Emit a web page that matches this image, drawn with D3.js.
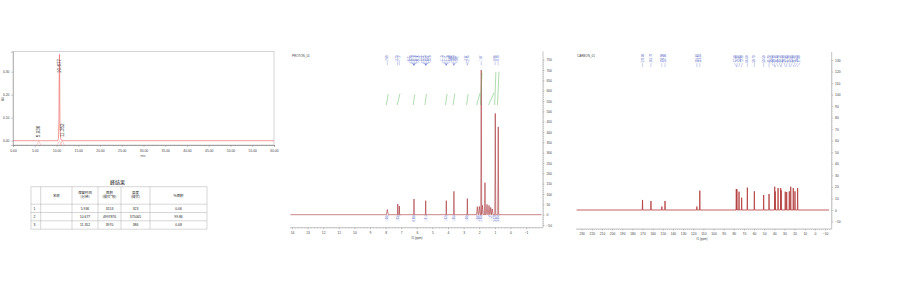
<!DOCTYPE html>
<html><head><meta charset="utf-8">
<script src="https://cdn.jsdelivr.net/npm/d3@7"></script>
<style>body{margin:0;background:#fff} svg{display:block}</style>
</head><body><svg id="c" width="900" height="300"></svg>
<script>
// ================= DATA =================
// HPLC chromatogram trace (min, AU)
const hplcTime = [0, 5.60, 5.80, 5.936, 6.05, 6.30, 10.30, 10.45, 10.55, 10.62, 10.677, 10.73, 10.80, 10.95, 11.10, 11.25, 11.352, 11.45, 11.70, 60];
const hplcAU   = [0, 0, 0.0002, 0.0004, 0.0002, 0, 0, 0.01, 0.08, 0.28, 0.375, 0.26, 0.07, 0.01, 0.002, 0.0003, 0.0005, 0.0002, 0, 0];
const peakTimes   = [5.936, 10.677, 11.352];
const peakHeights = [0.000323, 0.375065, 0.000386];
const peakLabels  = ["5.936", "10.677", "11.352"];
const hplcXTicks  = [0,5,10,15,20,25,30,35,40,45,50,55,60];
const hplcYTicks  = [0, 0.1, 0.2, 0.3];

// Peak result table
const tblTitle = "峰结果";
const tblHead  = ["", "名称", "保留时间", "面积", "高度", "%面积"];
const tblUnit  = ["", "", "(分钟)", "(微伏*秒)", "(微伏)", ""];
const tblIdx   = ["1", "2", "3"];
const tblName  = ["", "", ""];
const tblRT    = ["5.936", "10.677", "11.352"];
const tblArea  = ["3153", "4997876", "3970"];
const tblHt    = ["323", "375065", "386"];
const tblPct   = ["0.06", "99.86", "0.08"];

// 1H NMR peaks (ppm, intensity, line half-width ppm)
const hPpm = [7.89, 7.22, 7.12, 6.18, 5.43, 4.11, 3.62, 2.76, 2.12, 1.99, 1.87, 1.79, 1.63, 1.50, 1.37, 1.26, 1.16, 0.97, 0.78];
const hInt = [25, 52, 42, 76, 68, 68, 113, 78, 39, 40, 700, 45, 155, 50, 45, 35, 28, 490, 425];
const hW   = [0.06, 0.02, 0.02, 0.02, 0.02, 0.02, 0.02, 0.02, 0.05, 0.05, 0.03, 0.05, 0.03, 0.05, 0.05, 0.05, 0.05, 0.03, 0.03];
const hPeakLabels = [7.89, 7.23, 7.12, 6.21, 6.20, 6.19, 6.18, 6.17, 6.16, 5.45, 5.44, 5.43, 5.42, 5.41, 5.40, 4.13, 4.12, 4.11, 4.10, 4.09, 3.64, 3.63, 3.62, 3.61, 2.77, 2.75, 1.87, 0.98, 0.79];
const hIntFrom = [7.95, 7.26, 6.23, 5.48, 4.16, 3.67, 2.81, 2.16, 1.92, 1.40, 1.01, 0.83];
const hIntTo   = [7.83, 7.08, 6.13, 5.38, 4.06, 3.57, 2.71, 1.95, 1.82, 1.05, 0.93, 0.73];
const hIntVal  = [1.00, 1.03, 0.98, 1.01, 1.02, 1.05, 1.00, 1.08, 2.95, 1.12, 3.02, 3.05];
const hXTicks  = [14,13,12,11,10,9,8,7,6,5,4,3,2,1,0,-1];
const hYTicks  = [-50,0,50,100,150,200,250,300,350,400,450,500,550,600,650,700,750];

// 13C NMR peaks
const cPpm = [170.0, 161.7, 150.9, 147.8, 116.4, 113.5, 77.5, 76.9, 74.8, 72.2, 66.6, 59.7, 50.5, 45.2, 39.6, 39.1, 36.3, 33.7, 33.2, 29.2, 27.8, 25.2, 23.8, 21.3, 19.6, 17.0];
const cInt = [8.7, 7.8, 3.0, 7.8, 3.0, 16.8, 18.2, 18.0, 15.9, 10.7, 19.4, 16.2, 13.0, 13.9, 20.2, 16.0, 19.0, 19.0, 17.0, 15.9, 15.6, 16.2, 20.2, 19.0, 16.2, 19.0];
const cXTicks = [230,220,210,200,190,180,170,160,150,140,130,120,110,100,90,80,70,60,50,40,30,20,10,0,-10];
const cYTicks = [-10,0,10,20,30,40,50,60,70,80,90,100,110,120,130];

// ================= DRAW =================
const FONT = "'Liberation Sans', Arial, sans-serif";
const CJK = "'Noto Sans CJK SC', sans-serif";
const svg = d3.select("#c");
svg.append("rect").attr("width",900).attr("height",300).attr("fill","#fff");

function styleAxis(g, fs){
  g.selectAll("path.domain").attr("stroke","#888").attr("stroke-width",0.5);
  g.selectAll(".tick line").attr("stroke","#888").attr("stroke-width",0.4);
  g.selectAll(".tick text").attr("fill","#444").attr("font-size",fs).attr("font-family",FONT);
}
function spread(xs, gap){
  const out = xs.slice();
  for(let it=0; it<400; it++){
    let moved=false;
    for(let i=1;i<out.length;i++){
      const d = out[i]-out[i-1];
      if(d < gap - 1e-6){ const s=(gap-d)/2; out[i-1]-=s; out[i]+=s; moved=true; }
    }
    if(!moved) break;
  }
  return out;
}
function specPoints(ppms, ints, ws, hi, lo){
  const pts=[[hi,0]];
  d3.range(ppms.length).sort((a,b)=>ppms[b]-ppms[a]).forEach(i=>{
    pts.push([ppms[i]+ws[i],0],[ppms[i],ints[i]],[ppms[i]-ws[i],0]);
  });
  pts.push([lo,0]);
  return pts;
}

// ---------- HPLC ----------
const hx = d3.scaleLinear().domain([0,60]).range([13,274]);
const hy = d3.scaleLinear().domain([-0.0187,0.387]).range([145,51.7]);
const gH = svg.append("g");
gH.append("rect").attr("x",hx(0)).attr("y",hy(0.387)).attr("width",hx(60)-hx(0)).attr("height",hy(-0.0187)-hy(0.387))
  .attr("fill","none").attr("stroke","#aaa").attr("stroke-width",0.5);
const hxMinor = gH.append("g").attr("transform",`translate(0,${hy(-0.0187)})`)
  .call(d3.axisBottom(hx).tickValues(d3.range(0,61,1)).tickSize(1).tickFormat(""));
styleAxis(hxMinor,3.4);
const hxAx = gH.append("g").attr("transform",`translate(0,${hy(-0.0187)})`)
  .call(d3.axisBottom(hx).tickValues(hplcXTicks).tickSize(2).tickPadding(2.5).tickFormat(d3.format(".2f")));
styleAxis(hxAx,3.4);
const hyAx = gH.append("g").attr("transform",`translate(${hx(0)},0)`)
  .call(d3.axisLeft(hy).tickValues(hplcYTicks).tickSize(2).tickPadding(1.5).tickFormat(d3.format(".2f")));
styleAxis(hyAx,3.4);
gH.append("text").attr("x",143).attr("y",157).attr("text-anchor","middle").attr("font-size",3).attr("fill","#555").attr("font-family",FONT).text("min");
gH.append("text").attr("transform","translate(4,99) rotate(-90)").attr("text-anchor","middle").attr("font-size",3).attr("fill","#555").attr("font-family",FONT).text("AU");
// baseline markers
peakTimes.forEach(t=>{
  const x=hx(t), yb=hy(0), yl=hy(-0.0187);
  gH.append("path").attr("d",`M${x-2},${yl} L${x},${yb} L${x+2},${yl}`).attr("fill","none").attr("stroke","#f4a0a0").attr("stroke-width",0.5);
});
gH.append("path").datum(d3.zip(hplcTime,hplcAU))
  .attr("d",d3.line().x(d=>hx(d[0])).y(d=>hy(d[1])))
  .attr("fill","none").attr("stroke","#ee6e6e").attr("stroke-width",0.7);
peakTimes.forEach((t,i)=>{
  const len = peakLabels[i].length*2.55;
  let yb = hy(peakHeights[i]) - 3.5;
  const top = hy(0.387)+6;
  if(yb - len < top) yb = top + len;
  gH.append("text").attr("transform",`translate(${hx(t)+1.6},${yb}) rotate(-90)`)
    .attr("font-size",4.6).attr("fill","#333").attr("font-family",FONT).text(peakLabels[i]);
});

// ---------- Table ----------
const gT = svg.append("g");
gT.append("text").attr("x",117.5).attr("y",183.5).attr("text-anchor","middle").attr("font-size",5).attr("font-family",CJK).attr("fill","#222").text(tblTitle);
const colX = [31, 40.7, 72, 98, 121, 150, 207];
const rowY = [186.7, 204.2, 212.5, 220.8, 229.2];
colX.forEach(x=>gT.append("line").attr("x1",x).attr("x2",x).attr("y1",rowY[0]).attr("y2",rowY[4]).attr("stroke","#999").attr("stroke-width",0.4));
rowY.forEach(y=>gT.append("line").attr("x1",colX[0]).attr("x2",colX[6]).attr("y1",y).attr("y2",y).attr("stroke","#999").attr("stroke-width",0.4));
tblHead.forEach((h,i)=>{
  if(i===0) return;
  const cx=(colX[i]+colX[i+1])/2;
  if(tblUnit[i]){
    gT.append("text").attr("x",cx).attr("y",193.5).attr("text-anchor","middle").attr("font-size",3.4).attr("font-family",CJK).attr("fill","#222").text(h);
    gT.append("text").attr("x",cx).attr("y",198.3).attr("text-anchor","middle").attr("font-size",3.4).attr("font-family",CJK).attr("fill","#222").text(tblUnit[i]);
  } else {
    gT.append("text").attr("x",cx).attr("y",196.5).attr("text-anchor","middle").attr("font-size",3.4).attr("font-family",CJK).attr("fill","#222").text(h);
  }
});
const cols = [tblIdx, tblName, tblRT, tblArea, tblHt, tblPct];
cols.forEach((col,ci)=>{
  col.forEach((v,ri)=>{
    const cy=(rowY[ri+1]+rowY[ri+2])/2+1.2;
    const x = ci===0 ? colX[0]+2.5 : (colX[ci]+colX[ci+1])/2;
    gT.append("text").attr("x",x).attr("y",cy).attr("text-anchor",ci===0?"start":"middle")
      .attr("font-size",3.4).attr("font-family",FONT).attr("fill","#222").text(v);
  });
});

// ---------- 1H NMR ----------
const px1 = d3.scaleLinear().domain([14,-2]).range([292,541.6]);
const py1 = d3.scaleLinear().domain([0,750]).range([214.7,59.7]);
const pi1 = d3.scaleLinear().domain([0,3.05]).range([105,71.7]);
const g1 = svg.append("g");
g1.append("text").attr("x",292).attr("y",56.5).attr("font-size",3).attr("fill","#444").attr("font-family",FONT).text("PROTON_01");
// axes
g1.append("line").attr("x1",543).attr("x2",543).attr("y1",py1(790)).attr("y2",227.7).attr("stroke","#888").attr("stroke-width",0.5);
const y1min = g1.append("g").attr("transform","translate(543,0)").call(d3.axisRight(py1).tickValues(d3.range(-50,760,10)).tickSize(0.8).tickFormat(""));
styleAxis(y1min,3.3); y1min.select("path.domain").remove();
const y1ax = g1.append("g").attr("transform","translate(543,0)").call(d3.axisRight(py1).tickValues(hYTicks).tickSize(1.6).tickPadding(1.8));
styleAxis(y1ax,3.3); y1ax.select("path.domain").remove();
g1.append("line").attr("x1",290).attr("x2",543).attr("y1",227.7).attr("y2",227.7).attr("stroke","#888").attr("stroke-width",0.5);
const x1min = g1.append("g").attr("transform","translate(0,227.7)").call(d3.axisBottom(px1).tickValues(d3.range(-1.8,14.01,0.2)).tickSize(0.8).tickFormat(""));
styleAxis(x1min,3.3); x1min.select("path.domain").remove();
const x1ax = g1.append("g").attr("transform","translate(0,227.7)").call(d3.axisBottom(px1).tickValues(hXTicks).tickSize(1.6).tickPadding(2.2));
styleAxis(x1ax,3.3); x1ax.select("path.domain").remove();
g1.append("text").attr("x",417).attr("y",238.5).attr("text-anchor","middle").attr("font-size",3).attr("fill","#444").attr("font-family",FONT).text("f1 (ppm)");
// spectrum
g1.append("path").datum(specPoints(hPpm,hInt,hW,14.1,-2))
  .attr("d",d3.line().x(d=>px1(d[0])).y(d=>py1(d[1])))
  .attr("fill","none").attr("stroke","#9e1f24").attr("stroke-width",0.55);
// integrals
hIntFrom.forEach((f,i)=>{
  g1.append("line").attr("x1",px1(f)).attr("x2",px1(hIntTo[i])).attr("y1",pi1(0)).attr("y2",pi1(hIntVal[i]))
    .attr("stroke","#5cb85c").attr("stroke-width",0.5);
  // bracket & value label below baseline
  const a=px1(f), b=px1(hIntTo[i]), m=(a+b)/2;
  g1.append("path").attr("d",`M${a},${py1(-2)} L${a},${py1(-6)} L${b},${py1(-6)} L${b},${py1(-2)}`).attr("fill","none").attr("stroke","#4a5bc4").attr("stroke-width",0.3);
  g1.append("text").attr("transform",`translate(${m},${py1(-8)}) rotate(-90)`).attr("dy","0.35em").attr("text-anchor","end")
    .attr("font-size",2.6).attr("fill","#4a5bc4").attr("font-family",FONT).text(d3.format(".2f")(hIntVal[i]));
});
// peak labels at top
function peakLabelsDraw(g, sc, vals, gap, yText, fs, fmt){
  const sorted = vals.slice().sort((a,b)=>b-a);
  const tx = sorted.map(v=>sc(v));
  const lx = spread(tx, gap);
  sorted.forEach((v,i)=>{
    g.append("text").attr("transform",`translate(${lx[i]},${yText}) rotate(-90)`).attr("dy","0.35em")
      .attr("font-size",fs).attr("fill","#4a5bc4").attr("font-family",FONT).text(fmt(v));
    g.append("path").attr("d",`M${lx[i]},${yText+0.6} L${lx[i]},${yText+1.6} L${tx[i]},${yText+3.4} L${tx[i]},${yText+4.6}`)
      .attr("fill","none").attr("stroke","#4a5bc4").attr("stroke-width",0.3);
  });
}
peakLabelsDraw(g1, px1, hPeakLabels, 1.8, 60.7, 2.6, d3.format(".2f"));

// ---------- 13C NMR ----------
const px2 = d3.scaleLinear().domain([230,-10]).range([581.7,825]);
const py2 = d3.scaleLinear().domain([0,130]).range([210,60]);
const g2 = svg.append("g");
g2.append("text").attr("x",577).attr("y",56.5).attr("font-size",3).attr("fill","#444").attr("font-family",FONT).text("CARBON_01");
g2.append("line").attr("x1",831.7).attr("x2",831.7).attr("y1",py2(137)).attr("y2",229).attr("stroke","#888").attr("stroke-width",0.5);
const y2min = g2.append("g").attr("transform","translate(831.7,0)").call(d3.axisRight(py2).tickValues(d3.range(-10,131,2)).tickSize(0.8).tickFormat(""));
styleAxis(y2min,3.3); y2min.select("path.domain").remove();
const y2ax = g2.append("g").attr("transform","translate(831.7,0)").call(d3.axisRight(py2).tickValues(cYTicks).tickSize(1.6).tickPadding(1.8));
styleAxis(y2ax,3.3); y2ax.select("path.domain").remove();
g2.append("line").attr("x1",576).attr("x2",831.7).attr("y1",229).attr("y2",229).attr("stroke","#888").attr("stroke-width",0.5);
const x2min = g2.append("g").attr("transform","translate(0,229)").call(d3.axisBottom(px2).tickValues(d3.range(-14,235,2)).tickSize(0.8).tickFormat(""));
styleAxis(x2min,3.3); x2min.select("path.domain").remove();
const x2ax = g2.append("g").attr("transform","translate(0,229)").call(d3.axisBottom(px2).tickValues(cXTicks).tickSize(1.6).tickPadding(2.2));
styleAxis(x2ax,3.3); x2ax.select("path.domain").remove();
g2.append("text").attr("x",702).attr("y",240).attr("text-anchor","middle").attr("font-size",3).attr("fill","#444").attr("font-family",FONT).text("f1 (ppm)");
g2.append("path").datum(specPoints(cPpm,cInt,cPpm.map(()=>0.25),235,-14))
  .attr("d",d3.line().x(d=>px2(d[0])).y(d=>py2(d[1])))
  .attr("fill","none").attr("stroke","#b23a3a").attr("stroke-width",0.8);
peakLabelsDraw(g2, px2, cPpm, 2.5, 62.5, 2.8, d3.format(".2f"));
</script></body></html>
